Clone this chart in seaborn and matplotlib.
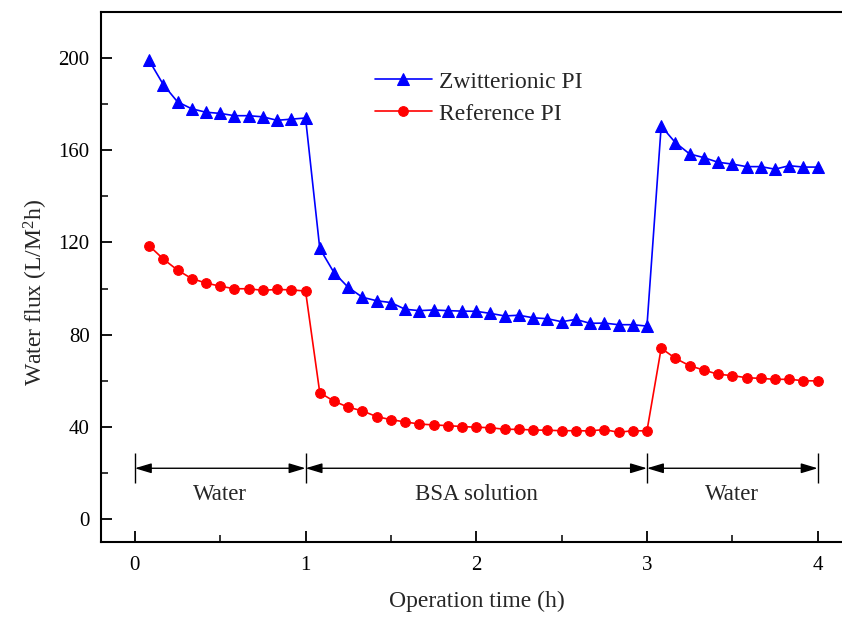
import numpy as np
import pandas as pd
import matplotlib
matplotlib.use("Agg")
import matplotlib.pyplot as plt
import seaborn as sns

# ---- data ----
time_min = [5, 10, 15, 20, 25, 30, 35, 40, 45, 50, 55, 60,
            65, 70, 75, 80, 85, 90, 95, 100, 105, 110, 115, 120,
            125, 130, 135, 140, 145, 150, 155, 160, 165, 170, 175, 180,
            185, 190, 195, 200, 205, 210, 215, 220, 225, 230, 235, 240]

zwitterionic = [199, 188.5, 181, 178, 176.5, 176, 175, 175, 174.5, 173, 173.5, 174,
                117.4, 106.9, 100.5, 96.2, 94.7, 93.9, 91.0, 90.4, 90.7, 90.4, 90.2, 90.1,
                89.2, 88.1, 88.4, 87.3, 86.9, 85.6, 86.6, 84.9, 85.0, 84.3, 84.3, 83.7,
                170.5, 163.3, 158.4, 156.8, 154.8, 154.0, 152.9, 152.9, 151.8, 153.3, 152.7, 152.7]

reference = [118.6, 112.8, 108.0, 104.3, 102.4, 101.0, 99.9, 99.9, 99.2, 99.6, 99.4, 98.9,
             54.8, 51.1, 48.5, 46.9, 44.4, 43.1, 42.1, 41.2, 40.8, 40.5, 40.1, 39.8,
             39.6, 38.9, 38.9, 38.6, 38.5, 38.3, 38.3, 38.2, 38.8, 37.6, 38.3, 38.2,
             74.1, 69.7, 66.5, 64.6, 62.8, 62.2, 61.3, 61.0, 60.6, 60.6, 60.0, 59.9]

series_names = ["Zwitterionic PI", "Reference PI"]
stage_bounds = [0, 1, 3, 4]
stage_labels = ["Water", "BSA solution", "Water"]
x_ticks = [0, 1, 2, 3, 4]
y_ticks = [0, 40, 80, 120, 160, 200]

hours = [m / 60 for m in time_min]
df = pd.DataFrame({
    "time": hours * 2,
    "flux": zwitterionic + reference,
    "series": [series_names[0]] * len(hours) + [series_names[1]] * len(hours),
})

# ---- style ----
sns.set_style("ticks")
plt.rcParams["font.family"] = ["Liberation Serif", "DejaVu Serif"]
plt.rcParams["mathtext.fontset"] = "custom"
plt.rcParams["mathtext.rm"] = "Liberation Serif"
plt.rcParams["mathtext.it"] = "Liberation Serif:italic"

fig = plt.figure(figsize=(8.42, 6.19), dpi=100)
ax = fig.add_axes([100.7 / 842, 1 - 542 / 619, 751.1 / 842, 530 / 619])

sns.lineplot(data=df[df.series == series_names[0]], x="time", y="flux",
             color="#0000ff", marker="^", markersize=9, markeredgecolor="#0000ff",
             linewidth=1.2, label=series_names[0], ax=ax)
sns.lineplot(data=df[df.series == series_names[1]], x="time", y="flux",
             color="#ff0000", marker="o", markersize=7, markeredgecolor="#ff0000",
             linewidth=1.2, label=series_names[1], ax=ax)

ax.set_xlim(-0.2, 4.2)
ax.set_ylim(-10, 220)
ax.set_xticks(x_ticks)
ax.set_yticks(y_ticks)
ax.set_xticks([0.5, 1.5, 2.5, 3.5], minor=True)
ax.set_yticks([20, 60, 100, 140, 180], minor=True)
ax.tick_params(which="major", direction="in", length=8, width=1.3,
               labelsize=15, pad=8, colors="black")
ax.tick_params(which="minor", direction="in", length=5, width=1.3)
ax.tick_params(axis="x", pad=10)
for s in ax.spines.values():
    s.set_linewidth(1.5)
    s.set_color("black")

ax.set_xlabel("Operation time (h)", fontsize=17)
ax.set_ylabel(r"Water flux (L/M$^\mathregular{2}$h)", fontsize=17)
ax.xaxis.set_label_coords(0.501, -0.092)
ax.yaxis.set_label_coords(-0.067, 0.47)

# stage annotations
ax.vlines(stage_bounds, 15.5, 28.5, color="black", linewidth=1.0)
for a, b, lab in zip(stage_bounds[:-1], stage_bounds[1:], stage_labels):
    ax.annotate("", xy=(b, 22), xytext=(a, 22),
                arrowprops=dict(arrowstyle="<|-|>,head_length=1.0,head_width=0.3",
                                color="black", lw=1.0, shrinkA=0, shrinkB=0,
                                mutation_scale=10))
    ax.text((a + b) / 2, 10.4, lab, ha="center", va="center", fontsize=16.5)

leg = ax.legend(loc="upper left", bbox_to_anchor=(375 / 842, 1 - 71 / 619),
                bbox_transform=fig.transFigure, frameon=False, fontsize=17,
                handlelength=2.4, handletextpad=0.3, labelspacing=0.45,
                borderpad=0, borderaxespad=0)

fig.savefig("out.png", dpi=100)
